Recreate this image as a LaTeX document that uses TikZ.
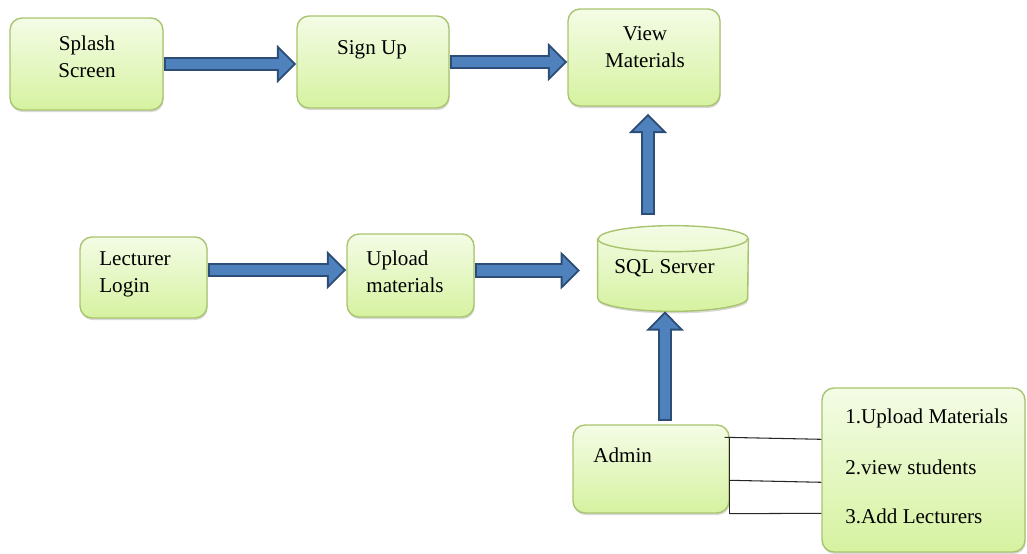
\documentclass[tikz,border=0pt]{standalone}
\usepackage{fontspec}
\setmainfont{Liberation Serif}
\usetikzlibrary{arrows.meta,shadows}
\definecolor{boxtop}{HTML}{F4FCE6}
\definecolor{boxbot}{HTML}{D6F2A0}
\definecolor{boxline}{HTML}{A9C46E}
\definecolor{arrowfill}{HTML}{4F81BD}
\definecolor{arrowline}{HTML}{2C4D75}
\begin{document}
\begin{tikzpicture}
    [
    x=0.02cm, y=-0.02cm,
    shade/.style={top color=boxtop,bottom color=boxbot,
      drop shadow={shadow xshift=0.4pt,shadow yshift=-1.2pt,fill=black,opacity=0.15}},
    stage/.style={shade,rectangle,rounded corners=0.24cm,draw=boxline,line width=0.8pt},
    rim/.style={draw=boxline,line width=0.8pt},
    txt/.style={inner sep=0pt,font=\fontsize{12}{15.3}\selectfont},
    flow/.style={draw=arrowfill,line width=6.2pt,shorten <=1.1pt,shorten >=1.6pt,-{Triangle[width=15.9pt,length=8.3pt]},
      preaction={draw=arrowline,line width=8.5pt,shorten <=0pt,shorten >=0pt,-{Triangle[width=21pt,length=11pt]}}},
    link/.style={draw=black!85,line width=0.6pt}
    ]
    \useasboundingbox (0,0) rectangle (1027,554);
    \node (splash) at (86.5,64) [stage,minimum width=3.06cm,minimum height=1.84cm] {};
    \node (signup) at (373,62) [stage,minimum width=3.04cm,minimum height=1.84cm] {};
    \node (view) at (644,57.5) [stage,minimum width=3.04cm,minimum height=1.94cm] {};
    \node (lecturer) at (143.5,277.5) [stage,minimum width=2.54cm,minimum height=1.62cm] {};
    \node (upload) at (410.5,275.5) [stage,minimum width=2.54cm,minimum height=1.66cm] {};
    \node (sql) at (673,268.5) [inner sep=0pt,minimum width=3cm,minimum height=1.7cm] {};
    \node (admin) at (651,469) [stage,minimum width=3.12cm,minimum height=1.76cm] {};
    \node (menu) at (923.5,470) [stage,minimum width=4.06cm,minimum height=3.28cm] {};
    % database drum
    \path [shade,rim] ([yshift=-0.26cm]sql.north west) -- ([yshift=0.26cm]sql.south west)
      arc [start angle=180,end angle=360,x radius=1.5cm,y radius=0.26cm] -- ([yshift=-0.26cm]sql.north east)
      arc [start angle=0,end angle=180,x radius=1.5cm,y radius=0.26cm] -- cycle;
    \draw [rim] ([yshift=-0.26cm]sql.north west) arc [start angle=180,end angle=360,x radius=1.5cm,y radius=0.26cm];
    \node (splashtxt) at (87,56.5) [txt,align=center] {Splash\\Screen};
    \node (signuptxt) at (372,50) [txt] {Sign Up};
    \node (viewtxt) at (645,47.5) [txt,align=center] {View\\Materials};
    \node (lecturertxt) at (99,274.5) [txt,anchor=west,align=left] {Lecturer\\Login};
    \node (uploadtxt) at (366,271.5) [txt,anchor=west,align=left] {Upload\\materials};
    \node (sqltxt) at (664.5,268) [txt] {SQL Server};
    \node (admintxt) at (593,455) [txt,anchor=west] {Admin};
    \node (menu1) at (845,418) [txt,anchor=west] {1.Upload Materials};
    \node (menu2) at (845,467) [txt,anchor=west] {2.view students};
    \node (menu3) at (845,516) [txt,anchor=west] {3.Add Lecturers};
    \coordinate (sqlin) at (580,270.5);
    \coordinate (sqlout) at (648,215);
    \draw [flow] (splash.east) -- (splash.east -| signup.west);
    \draw [flow] (signup.east) -- (signup.east -| view.west);
    \draw [flow] ([yshift=0.15cm]lecturer.east) -- ([yshift=0.15cm]lecturer.east -| upload.west);
    \draw [flow] ([yshift=0.1cm]upload.east) -- ([yshift=0.1cm]upload.east -| sqlin);
    \draw [flow] (sqlout) -- ([yshift=-0.14cm]sqlout |- view.south);
    \draw [flow] ([xshift=0.28cm,yshift=0.06cm]admin.north) -- ([xshift=0.28cm]admin.north |- sql.south);
    \draw [link] ([xshift=-0.1cm,yshift=-0.26cm]admin.north east) -- ([yshift=-1.04cm]menu.north west);
    \draw [link] ([yshift=-0.26cm]admin.north east) -- (admin.south east);
    \draw [link] ([yshift=-1.12cm]admin.north east) -- ([yshift=-1.9cm]menu.north west);
    \draw [link] (admin.south east) -- ([yshift=-2.52cm]menu.north west);
  \end{tikzpicture}
\end{document}
